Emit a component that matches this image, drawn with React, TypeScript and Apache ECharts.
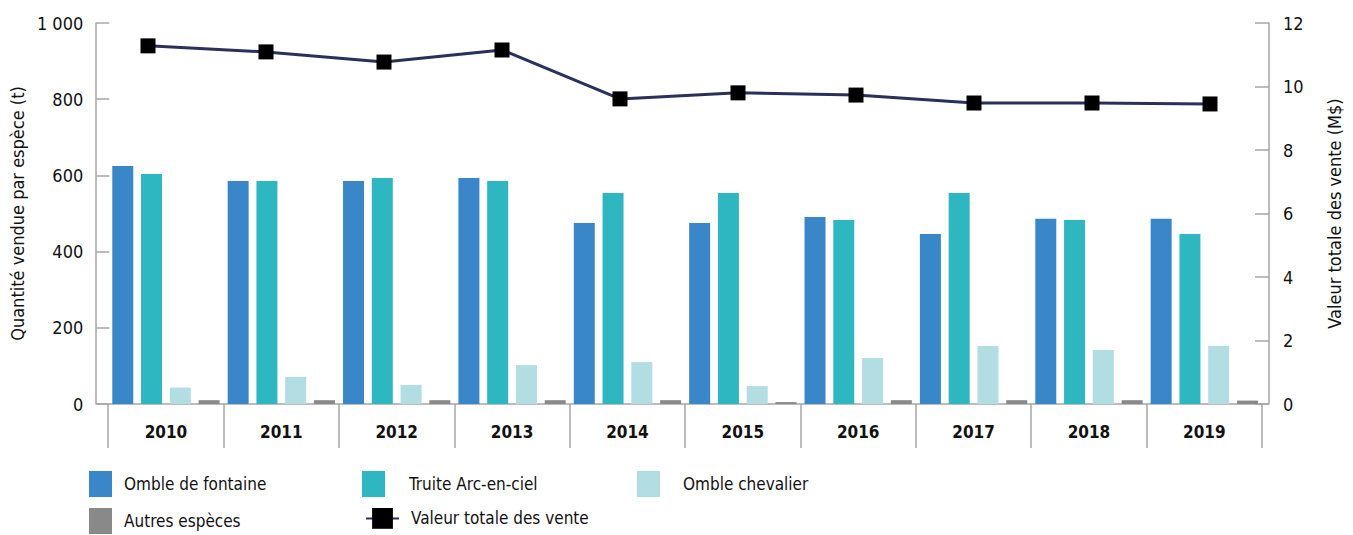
import React, { useEffect, useRef } from "react";
import * as echarts from "echarts";

const years = ["2010", "2011", "2012", "2013", "2014", "2015", "2016", "2017", "2018", "2019"];
const ombleFontaine = [625, 585, 585, 593, 475, 475, 491, 446, 486, 486];
const truiteArcEnCiel = [604, 585, 593, 585, 554, 554, 483, 554, 483, 446];
const ombleChevalier = [43, 71, 50, 102, 110, 47, 121, 152, 142, 152];
const autresEspeces = [10, 10, 10, 10, 10, 5, 10, 10, 10, 9];
const valeurTotale = [11.28, 11.09, 10.77, 11.15, 9.61, 9.8, 9.73, 9.48, 9.48, 9.45];

const FONT = "'Liberation Sans Narrow', 'DejaVu Sans Condensed', 'Noto Sans', sans-serif";
const AXIS = "#a6a6a6";

export default function App() {
  const ref = useRef<HTMLDivElement>(null);
  useEffect(() => {
    document.body.style.margin = "0";
    const chart = echarts.init(ref.current!, undefined, { renderer: "svg" });
    const barCommon = { type: "bar", xAxisIndex: 0, yAxisIndex: 0, barWidth: 21, barGap: "37%" };
    const legendText = { fontFamily: FONT, fontSize: 17, color: "#111" };
    const legendBase = { padding: 0, icon: "rect", itemWidth: 23, itemHeight: 26 };
    chart.setOption({
      animation: false,
      textStyle: { fontFamily: FONT },
      grid: [
        { left: 108, right: 91, top: 23, bottom: 131 },
        { left: 148, right: 143, top: 23, bottom: 131 },
      ],
      legend: [
        { ...legendBase, data: ["Omble de fontaine"], left: 89, top: 471, textStyle: { ...legendText, padding: [0, 0, 0, 7] } },
        { ...legendBase, data: ["Truite Arc-en-ciel"], left: 362, top: 471, textStyle: { ...legendText, padding: [0, 0, 0, 19] } },
        { ...legendBase, data: ["Omble chevalier"], left: 637, top: 471, textStyle: { ...legendText, padding: [0, 0, 0, 18] } },
        { ...legendBase, data: ["Autres espèces"], left: 89, top: 508, textStyle: { ...legendText, padding: [0, 0, 0, 7] } },
        { padding: 0, data: ["Valeur totale des vente"], left: 365, top: 508, itemWidth: 33, itemHeight: 26, textStyle: { ...legendText, padding: [0, 0, 0, 7] } },
      ],
      xAxis: [
        {
          type: "category",
          gridIndex: 0,
          data: years,
          axisLine: { lineStyle: { color: AXIS, width: 1.5 } },
          axisTick: { show: true, length: 44, interval: 0, lineStyle: { color: AXIS, width: 1.5 } },
          axisLabel: { fontFamily: FONT, fontSize: 17, fontWeight: "bold", color: "#111", margin: 19 },
        },
        {
          type: "category",
          gridIndex: 1,
          data: years,
          boundaryGap: false,
          show: false,
        },
      ],
      yAxis: [
        {
          type: "value",
          gridIndex: 0,
          min: 0,
          max: 1000,
          interval: 200,
          offset: 12,
          name: "Quantité vendue par espèce (t)",
          nameLocation: "middle",
          nameGap: 63,
          nameTextStyle: { fontFamily: FONT, fontSize: 18, color: "#111" },
          axisLine: { show: true, lineStyle: { color: AXIS, width: 1.5 } },
          axisTick: { show: true, inside: true, length: 13, lineStyle: { color: AXIS, width: 1.5 } },
          splitLine: { show: false },
          axisLabel: {
            fontFamily: FONT,
            fontSize: 18,
            color: "#111",
            margin: 13,
            formatter: (v: number) => (v >= 1000 ? "1 000" : String(v)),
          },
        },
        {
          type: "value",
          gridIndex: 1,
          position: "right",
          min: 0,
          max: 12,
          interval: 2,
          offset: 59,
          name: "Valeur totale des vente (M$)",
          nameLocation: "middle",
          nameGap: 56,
          nameRotate: 90,
          nameTextStyle: { fontFamily: FONT, fontSize: 18, color: "#111" },
          axisLine: { show: true, lineStyle: { color: AXIS, width: 1.5 } },
          axisTick: { show: true, inside: true, length: 14, lineStyle: { color: AXIS, width: 1.5 } },
          splitLine: { show: false },
          axisLabel: { fontFamily: FONT, fontSize: 18, color: "#111", margin: 14 },
        },
      ],
      graphic: [
        { type: "line", shape: { x1: 96, y1: 404, x2: 108, y2: 404 }, style: { stroke: AXIS, lineWidth: 1.5 } },
        { type: "line", shape: { x1: 1262, y1: 404, x2: 1269, y2: 404 }, style: { stroke: AXIS, lineWidth: 1.5 } },
      ],
      series: [
        { ...barCommon, name: "Omble de fontaine", data: ombleFontaine, itemStyle: { color: "#3987c8" } },
        { ...barCommon, name: "Truite Arc-en-ciel", data: truiteArcEnCiel, itemStyle: { color: "#2eb6c1" } },
        { ...barCommon, name: "Omble chevalier", data: ombleChevalier, itemStyle: { color: "#b2dde3" } },
        { ...barCommon, name: "Autres espèces", data: autresEspeces, itemStyle: { color: "#898989" } },
        {
          type: "line",
          name: "Valeur totale des vente",
          xAxisIndex: 1,
          yAxisIndex: 1,
          data: valeurTotale,
          symbol: "rect",
          symbolSize: 15,
          itemStyle: { color: "#000" },
          lineStyle: { color: "#2b2f5c", width: 3 },
          z: 5,
        },
      ],
    });
    return () => chart.dispose();
  }, []);
  return <div ref={ref} style={{ width: 1353, height: 535 }} />;
}
